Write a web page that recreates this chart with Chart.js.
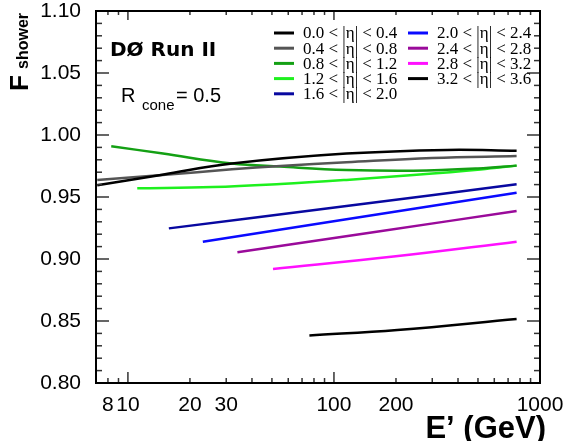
<!DOCTYPE html>
<html>
<head>
<meta charset="utf-8">
<script src="https://cdn.jsdelivr.net/npm/chart.js@4.4.1/dist/chart.umd.min.js"></script>
<style>
  html, body { margin: 0; padding: 0; background: #fff; }
  canvas { display: block; }
</style>
</head>
<body>
<canvas id="chart" width="565" height="441"></canvas>
<script>
// Pseudorapidity bins, one curve per bin
const etaBins = [
  '0.0 < |η| < 0.4', '0.4 < |η| < 0.8', '0.8 < |η| < 1.2', '1.2 < |η| < 1.6',
  '1.6 < |η| < 2.0', '2.0 < |η| < 2.4', '2.4 < |η| < 2.8', '2.8 < |η| < 3.2',
  '3.2 < |η| < 3.6'
];
const binColors = [
  '#000000', '#555555', '#14a014', '#1ef01e',
  '#0808a0', '#0a0aff', '#9a0a9a', '#ff10ff', '#000000'
];

// Showering correction F_shower versus E' (GeV)
const energy_00_04  = [7.1, 14.7, 32, 115, 354, 770];
const fshower_00_04 = [0.9595, 0.968, 0.977, 0.985, 0.988, 0.9873];

const energy_04_08  = [7.1, 14.7, 32, 55, 115, 300, 770];
const fshower_04_08 = [0.9637, 0.9677, 0.9723, 0.975, 0.978, 0.9815, 0.983];

const energy_08_12  = [8.3, 14.8, 32, 55, 115, 243, 500, 770];
const fshower_08_12 = [0.991, 0.985, 0.977, 0.9745, 0.9718, 0.9712, 0.973, 0.9753];

const energy_12_16  = [11.1, 25.8, 55, 115, 243, 514, 770];
const fshower_12_16 = [0.957, 0.958, 0.9605, 0.9638, 0.9677, 0.9722, 0.9753];

const energy_16_20  = [15.8, 115, 770];
const fshower_16_20 = [0.9247, 0.9427, 0.9602];

const energy_20_24  = [23.1, 115, 770];
const fshower_20_24 = [0.914, 0.932, 0.9535];

const energy_24_28  = [34, 161, 770];
const fshower_24_28 = [0.9054, 0.922, 0.9387];

const energy_28_32  = [50.6, 194.5, 770];
const fshower_28_32 = [0.892, 0.902, 0.914];

const energy_32_36  = [76, 203, 770];
const fshower_32_36 = [0.8384, 0.8427, 0.8516];

const energyBins = [energy_00_04, energy_04_08, energy_08_12, energy_12_16,
  energy_16_20, energy_20_24, energy_24_28, energy_28_32, energy_32_36];
const fshowerBins = [fshower_00_04, fshower_04_08, fshower_08_12, fshower_12_16,
  fshower_16_20, fshower_20_24, fshower_24_28, fshower_28_32, fshower_32_36];

// Axis ranges and labelled ticks
const xRange = [7, 1000];
const yRange = [0.80, 1.10];
const xTickLabels = [8, 10, 20, 30, 100, 200, 1000];
const yTickStep = 0.05;

const datasets = etaBins.map((label, i) => ({
  label,
  data: energyBins[i].map((e, k) => ({ x: e, y: fshowerBins[i][k] })),
  borderColor: binColors[i],
  backgroundColor: binColors[i],
  borderWidth: 2.5,
  pointRadius: 0,
  tension: 0.4,
  fill: false
}));

// Frame, inward tick marks, legend and text annotations
const decorations = {
  id: 'decorations',
  afterDraw(chart) {
    const { ctx, chartArea: a, scales } = chart;
    const xs = scales.x, ys = scales.y;
    ctx.save();

    // inward ticks on all four sides
    ctx.strokeStyle = '#333';
    ctx.lineWidth = 1.5;
    const xMinor = [8, 9, 20, 30, 40, 50, 60, 70, 80, 90, 200, 300, 400, 500, 600, 700, 800, 900];
    const xMajor = [10, 100];
    const line = (x1, y1, x2, y2) => { ctx.beginPath(); ctx.moveTo(x1, y1); ctx.lineTo(x2, y2); ctx.stroke(); };
    xMinor.forEach(v => { const p = xs.getPixelForValue(v); line(p, a.bottom, p, a.bottom - 5); line(p, a.top, p, a.top + 4); });
    xMajor.forEach(v => { const p = xs.getPixelForValue(v); line(p, a.bottom, p, a.bottom - 11); line(p, a.top, p, a.top + 9); });
    for (let k = 1; k < 30; k++) {
      const v = yRange[0] + k * 0.01;
      const p = ys.getPixelForValue(v);
      const len = (k % 5 === 0) ? 13 : 6;
      line(a.left, p, a.left + len, p);
      line(a.right, p, a.right - len, p);
    }

    // frame
    ctx.strokeStyle = '#000';
    ctx.lineWidth = 2;
    ctx.strokeRect(a.left, a.top, a.right - a.left, a.bottom - a.top);

    // legend, two columns
    ctx.font = '17px "Liberation Serif", "DejaVu Serif"';
    ctx.textBaseline = 'middle';
    ctx.textAlign = 'left';
    const cols = [274, 408];
    chart.data.datasets.forEach((ds, i) => {
      const col = i < 5 ? 0 : 1;
      const row = i < 5 ? i : i - 5;
      const x = cols[col];
      const y = 33 + row * 15.2;
      ctx.strokeStyle = ds.borderColor;
      ctx.lineWidth = 3;
      line(x, y, x + 20, y);
      ctx.fillStyle = '#000';
      ctx.fillText(ds.label, x + 29, y + 1);
    });

    ctx.fillStyle = '#000';
    ctx.textBaseline = 'alphabetic';
    ctx.font = 'bold 20px "DejaVu Sans"';
    ctx.fillText('DØ Run II', 110, 56);

    ctx.font = '20px "Liberation Sans"';
    ctx.fillText('R', 121, 101.7);
    ctx.fillText('= 0.5', 176, 101.7);
    ctx.font = '15px "Liberation Sans"';
    ctx.fillText('cone', 142, 110);

    // axis titles
    ctx.font = 'bold 31px "Liberation Sans"';
    ctx.textAlign = 'right';
    ctx.fillText('E’ (GeV)', 546, 438);

    ctx.save();
    ctx.translate(28, 91);
    ctx.rotate(-Math.PI / 2);
    ctx.textAlign = 'left';
    ctx.font = 'bold 26px "Liberation Sans"';
    ctx.fillText('F', 0, 0);
    ctx.font = 'bold 16px "Liberation Sans"';
    ctx.fillText('shower', 22, 0);
    ctx.restore();

    ctx.restore();
  }
};

new Chart(document.getElementById('chart'), {
  type: 'line',
  data: { datasets },
  options: {
    responsive: false,
    animation: false,
    layout: { padding: { left: 0, top: 11, right: 25, bottom: 0 } },
    plugins: { legend: { display: false }, tooltip: { enabled: false } },
    scales: {
      x: {
        type: 'logarithmic',
        min: xRange[0],
        max: xRange[1],
        grid: { display: false, drawTicks: false },
        border: { display: false },
        afterBuildTicks: s => { s.ticks = xTickLabels.map(v => ({ value: v })); },
        afterFit: s => { s.height = 58; s.paddingLeft = 0; s.paddingRight = 0; },
        ticks: {
          autoSkip: false,
          maxRotation: 0,
          padding: 10,
          color: '#000',
          font: { family: '"Liberation Sans"', size: 21 },
          callback: v => String(v)
        }
      },
      y: {
        min: yRange[0],
        max: yRange[1],
        grid: { display: false, drawTicks: false },
        border: { display: false },
        afterFit: s => { s.width = 96; s.paddingTop = 0; s.paddingBottom = 0; },
        ticks: {
          stepSize: yTickStep,
          padding: 15,
          color: '#000',
          font: { family: '"Liberation Sans"', size: 21 },
          callback: v => Number(v).toFixed(2)
        }
      }
    }
  },
  plugins: [decorations]
});
</script>
</body>
</html>
